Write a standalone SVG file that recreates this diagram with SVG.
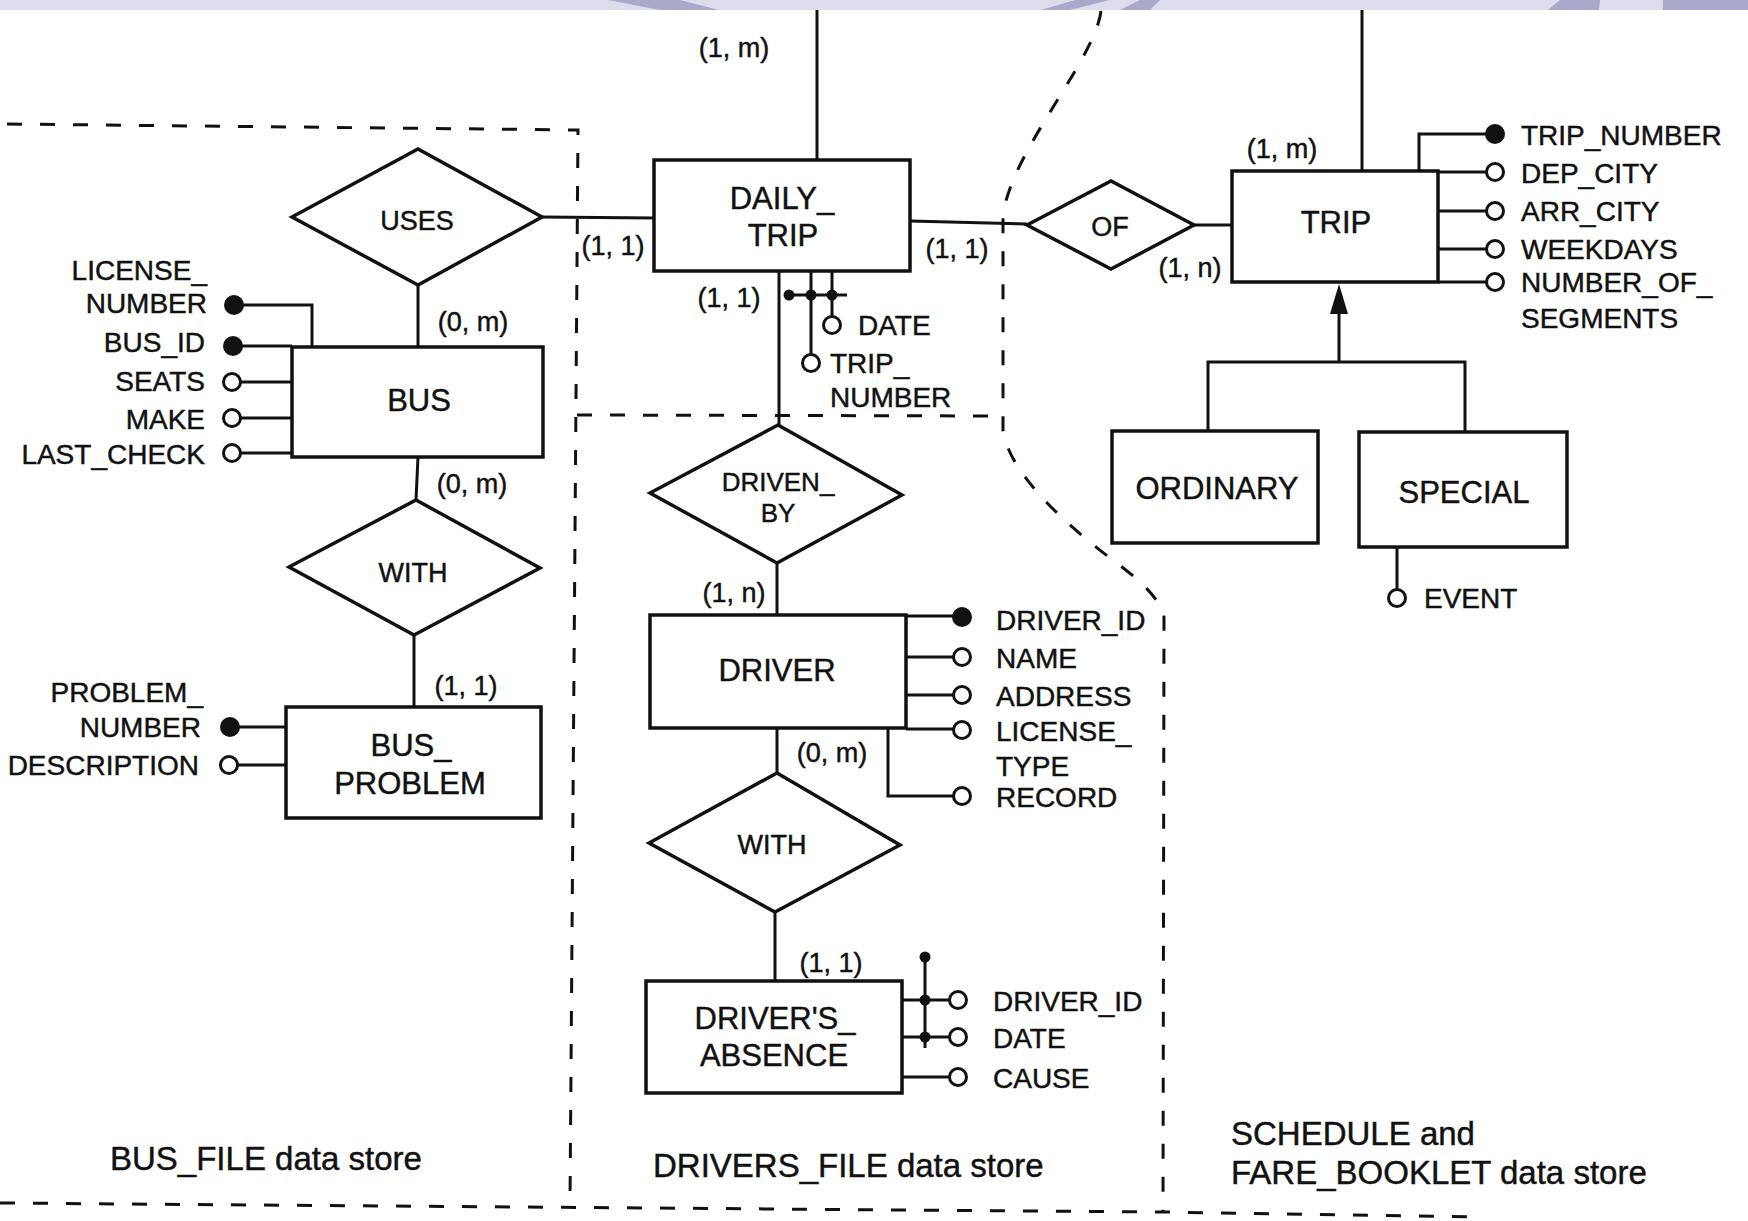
<svg xmlns="http://www.w3.org/2000/svg" width="1748" height="1221" viewBox="0 0 1748 1221">
<style>
.ln{stroke:#111;stroke-width:3;fill:none}
.box{fill:#fff;stroke:#111;stroke-width:3.5}
.dash{stroke:#111;stroke-width:3;stroke-dasharray:15 18;fill:none}
text{font-family:"Liberation Sans",Arial,Helvetica,sans-serif;fill:#111;stroke:#111;stroke-width:0.45}
.ent{font-size:31px;text-anchor:middle}
.rel{font-size:27px;text-anchor:middle}
.att{font-size:28px}
.end{text-anchor:end}
.card{font-size:27px;text-anchor:middle}
.store{font-size:33px}
.key{fill:#111;stroke:none}
.opt{fill:#fff;stroke:#111;stroke-width:3}
.arrow{fill:#111}
</style>
<defs>
<circle id="keydot" r="10" class="key"/>
<circle id="optdot" r="8.5" class="opt"/>
<circle id="joint" r="5.5" class="key"/>
</defs>
<rect width="1748" height="10" fill="#dcdcec"/>
<g fill="#a9a9cc">
<polygon points="608,0 680,0 719,10 660,10"/>
<polygon points="1041,10 1075,0 1110,0 1070,10"/>
<polygon points="1120,10 1140,0 1160,0 1150,10"/>
<polygon points="1548,10 1560,0 1600,0 1599,10"/>
<rect x="1663" y="0" width="85" height="10"/>
</g>

<g id="boundaries">
<path class="dash" d="M7,124 L578,130 L570,1205"/>
<path class="dash" d="M0,1203 L1163,1212 L1480,1217"/>
<path class="dash" d="M577,415 L1003,416"/>
<path class="dash" d="M1101,11 C1095,60 1012,150 1003,215 L1003,430 C1008,470 1060,520 1110,558 C1140,580 1160,598 1164,617 L1163,1212"/>
</g>

<g id="connectors">
<line class="ln" x1="542" y1="217" x2="654" y2="218"/>
<line class="ln" x1="418" y1="285" x2="418" y2="347"/>
<line class="ln" x1="418" y1="457" x2="416" y2="500"/>
<line class="ln" x1="414" y1="635" x2="414" y2="707"/>
<line class="ln" x1="817" y1="10" x2="817" y2="160"/>
<line class="ln" x1="910" y1="221" x2="1027" y2="224"/>
<line class="ln" x1="1194" y1="225" x2="1232" y2="225"/>
<line class="ln" x1="1362" y1="10" x2="1362" y2="171"/>
<line class="ln" x1="779" y1="271" x2="779" y2="425"/>
<line class="ln" x1="777" y1="563" x2="777" y2="615"/>
<line class="ln" x1="777" y1="728" x2="777" y2="773"/>
<line class="ln" x1="775" y1="912" x2="775" y2="981"/>
<path class="ln" d="M1339,310 L1339,362 M1208,431 L1208,362 L1465,362 L1465,432"/>
<polygon class="arrow" points="1339,284 1330,314 1348,314"/>
<text class="card" x="734" y="57">(1, m)</text>
<text class="card" x="613" y="255">(1, 1)</text>
<text class="card" x="957" y="258">(1, 1)</text>
<text class="card" x="729" y="307">(1, 1)</text>
<text class="card" x="473" y="331">(0, m)</text>
<text class="card" x="472" y="493">(0, m)</text>
<text class="card" x="466" y="695">(1, 1)</text>
<text class="card" x="734" y="602">(1, n)</text>
<text class="card" x="832" y="762">(0, m)</text>
<text class="card" x="831" y="972">(1, 1)</text>
<text class="card" x="1282" y="158">(1, m)</text>
<text class="card" x="1190" y="277">(1, n)</text>
</g>

<g id="uses">
<polygon class="box" points="292,217 418,149 542,217 418,285"/>
<text class="rel" x="417" y="230">USES</text>
</g>

<g id="bus">
<path class="ln" d="M234,305 L312,305 L312,347 M233,346 L292,346 M240,382 L292,382 M240,418 L292,418 M240,453 L292,453"/>
<rect class="box" x="292" y="347" width="251" height="110"/>
<text class="ent" x="419" y="411">BUS</text>
<use href="#keydot" x="234" y="305"/>
<use href="#keydot" x="233" y="346"/>
<use href="#optdot" x="232" y="382"/>
<use href="#optdot" x="232" y="418"/>
<use href="#optdot" x="232" y="453"/>
<text class="att end" x="207" y="280">LICENSE_</text>
<text class="att end" x="207" y="313">NUMBER</text>
<text class="att end" x="205" y="352">BUS_ID</text>
<text class="att end" x="205" y="391">SEATS</text>
<text class="att end" x="205" y="429">MAKE</text>
<text class="att end" x="205" y="464">LAST_CHECK</text>
</g>

<g id="with-bus">
<polygon class="box" points="289,567 416,500 540,568 414,635"/>
<text class="rel" x="413" y="582">WITH</text>
</g>

<g id="bus-problem">
<path class="ln" d="M230,727 L286,727 M238,765 L286,765"/>
<rect class="box" x="286" y="707" width="255" height="111"/>
<text class="ent" x="411" y="756">BUS_</text>
<text class="ent" x="410" y="794">PROBLEM</text>
<use href="#keydot" x="230" y="727"/>
<use href="#optdot" x="229" y="765"/>
<text class="att end" x="203" y="702">PROBLEM_</text>
<text class="att end" x="201" y="737">NUMBER</text>
<text class="att end" x="199" y="775">DESCRIPTION</text>
</g>

<g id="daily-trip">
<path class="ln" d="M789,295 L847,295 M811,271 L811,354 M832,271 L832,316"/>
<rect class="box" x="654" y="160" width="256" height="111"/>
<text class="ent" x="782" y="209">DAILY_</text>
<text class="ent" x="783" y="246">TRIP</text>
<use href="#joint" x="789" y="295"/>
<use href="#joint" x="811" y="295"/>
<use href="#joint" x="832" y="295"/>
<use href="#optdot" x="832" y="325"/>
<use href="#optdot" x="811" y="363"/>
<text class="att" x="858" y="335">DATE</text>
<text class="att" x="830" y="373">TRIP_</text>
<text class="att" x="830" y="407">NUMBER</text>
</g>

<g id="of">
<polygon class="box" points="1027,225 1111,181 1194,225 1111,269"/>
<text class="rel" x="1110" y="236">OF</text>
</g>

<g id="trip">
<path class="ln" d="M1419,171 L1419,134 L1495,134 M1438,172 L1495,172 M1438,211 L1495,211 M1438,249 L1495,249 M1438,282 L1495,282"/>
<rect class="box" x="1232" y="171" width="206" height="111"/>
<text class="ent" x="1336" y="233">TRIP</text>
<use href="#keydot" x="1495" y="134"/>
<use href="#optdot" x="1495" y="172"/>
<use href="#optdot" x="1495" y="211"/>
<use href="#optdot" x="1495" y="249"/>
<use href="#optdot" x="1495" y="282"/>
<text class="att" x="1521" y="145">TRIP_NUMBER</text>
<text class="att" x="1521" y="183">DEP_CITY</text>
<text class="att" x="1521" y="221">ARR_CITY</text>
<text class="att" x="1521" y="259">WEEKDAYS</text>
<text class="att" x="1521" y="292">NUMBER_OF_</text>
<text class="att" x="1521" y="328">SEGMENTS</text>
</g>

<g id="ordinary">
<rect class="box" x="1112" y="431" width="206" height="112"/>
<text class="ent" x="1217" y="499">ORDINARY</text>
</g>

<g id="special">
<path class="ln" d="M1397,547 L1397,589"/>
<rect class="box" x="1359" y="432" width="208" height="115"/>
<text class="ent" x="1464" y="503">SPECIAL</text>
<use href="#optdot" x="1397" y="598"/>
<text class="att" x="1424" y="608">EVENT</text>
</g>

<g id="driven-by">
<polygon class="box" points="650,493 778,425 902,495 777,563"/>
<text class="rel" x="778" y="491" style="font-size:26px">DRIVEN_</text>
<text class="rel" x="778" y="522" style="font-size:26px">BY</text>
</g>

<g id="driver">
<path class="ln" d="M906,616 L962,616 M906,657 L962,657 M906,695 L962,695 M906,729 L962,729 M888,728 L888,796 L962,796"/>
<rect class="box" x="650" y="615" width="256" height="113"/>
<text class="ent" x="777" y="681">DRIVER</text>
<use href="#keydot" x="962" y="617"/>
<use href="#optdot" x="962" y="657"/>
<use href="#optdot" x="962" y="695"/>
<use href="#optdot" x="962" y="730"/>
<use href="#optdot" x="962" y="796"/>
<text class="att" x="996" y="630">DRIVER_ID</text>
<text class="att" x="996" y="668">NAME</text>
<text class="att" x="996" y="706">ADDRESS</text>
<text class="att" x="996" y="741">LICENSE_</text>
<text class="att" x="996" y="776">TYPE</text>
<text class="att" x="996" y="807">RECORD</text>
</g>

<g id="with-driver">
<polygon class="box" points="649,843 777,773 900,845 775,912"/>
<text class="rel" x="772" y="854">WITH</text>
</g>

<g id="drivers-absence">
<path class="ln" d="M925,957 L925,1048 M902,1000 L958,1000 M902,1037 L958,1037 M902,1077 L958,1077"/>
<rect class="box" x="646" y="981" width="256" height="112"/>
<text class="ent" x="775" y="1029">DRIVER'S_</text>
<text class="ent" x="774" y="1066">ABSENCE</text>
<use href="#joint" x="925" y="957"/>
<use href="#joint" x="925" y="1000"/>
<use href="#joint" x="925" y="1037"/>
<use href="#optdot" x="958" y="1000"/>
<use href="#optdot" x="958" y="1037"/>
<use href="#optdot" x="958" y="1077"/>
<text class="att" x="993" y="1011">DRIVER_ID</text>
<text class="att" x="993" y="1048">DATE</text>
<text class="att" x="993" y="1088">CAUSE</text>
</g>

<g id="store-labels">
<text class="store" x="110" y="1170">BUS_FILE data store</text>
<text class="store" x="653" y="1177">DRIVERS_FILE data store</text>
<text class="store" x="1231" y="1145">SCHEDULE and</text>
<text class="store" x="1231" y="1184">FARE_BOOKLET data store</text>
</g>
</svg>
